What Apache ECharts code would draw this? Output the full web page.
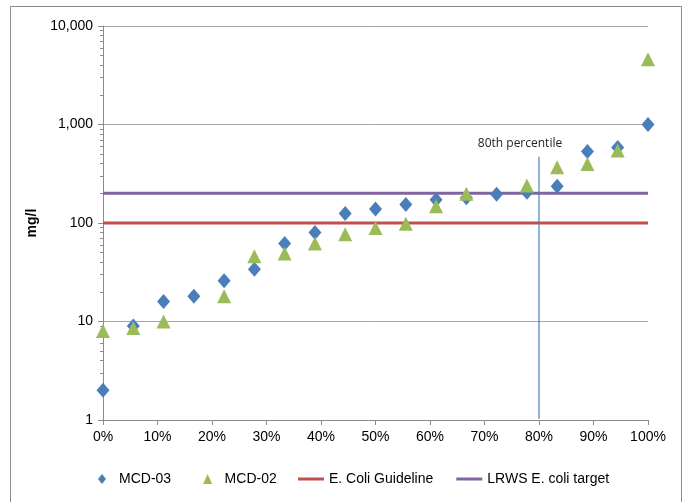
<!DOCTYPE html>
<html>
<head>
<meta charset="utf-8">
<script src="https://cdn.jsdelivr.net/npm/echarts@6/dist/echarts.min.js"></script>
<style>
  html, body { margin: 0; padding: 0; background: #fff; }
  #chart { width: 688px; height: 502px; }
</style>
</head>
<body>
<div id="chart"></div>
<script>
// percentile positions (0 .. 100%, 19 samples)
var percentiles = [0, 5.56, 11.11, 16.67, 22.22, 27.78, 33.33, 38.89, 44.44, 50,
                   55.56, 61.11, 66.67, 72.22, 77.78, 83.33, 88.89, 94.44, 100];
var mcd03 = [2, 9, 16, 18, 26, 34, 62, 80, 125, 139, 154, 172, 180, 196, 205, 236, 532, 585, 1000];
var mcd02 = [8, 8.6, 10, null, 18, 46, 49, 62, 77, 89, 98, 148, 198, null, 240, 369, 398, 545, 4600];
var guideline = 100;
var lrwsTarget = 200;
var percentileLine = 80;
var percentileLineTop = 470;

var font = '"Liberation Sans", Arial, sans-serif';

function pairs(xs, ys) {
  var out = [];
  for (var i = 0; i < xs.length; i++) {
    if (ys[i] != null) out.push([xs[i], ys[i]]);
  }
  return out;
}

var chart = echarts.init(document.getElementById('chart'));

var legendText = { fontFamily: font, fontSize: 14, color: '#000' };

var option = {
  animation: false,
  textStyle: { fontFamily: font },
  graphic: [{
    type: 'rect',
    shape: { x: 10.5, y: 6.5, width: 671, height: 510 },
    style: { fill: 'none', stroke: '#8c8c8c', lineWidth: 1 },
    silent: true
  }],
  grid: { left: 103, right: 40, top: 26, bottom: 82 },
  legend: [
    {
      left: 93,
      top: 467,
      itemGap: 32,
      itemWidth: 24,
      itemHeight: 10,
      textStyle: legendText,
      data: [
        { name: 'MCD-03', icon: 'path://M0,-1L0.8,0L0,1L-0.8,0Z' },
        { name: 'MCD-02', icon: 'path://M0,-1L0.9,1L-0.9,1Z' }
      ]
    },
    {
      left: 293,
      top: 467,
      itemGap: 23,
      itemWidth: 26,
      itemHeight: 10,
      textStyle: legendText,
      data: [
        { name: 'E. Coli Guideline', icon: 'path://M0,0L26,0L26,3L0,3Z' },
        { name: 'LRWS E. coli target', icon: 'path://M0,0L26,0L26,3L0,3Z' }
      ]
    }
  ],
  xAxis: {
    type: 'value',
    min: 0,
    max: 100,
    interval: 10,
    axisLine: { lineStyle: { color: '#8c8c8c' } },
    axisTick: { show: true, length: 5, lineStyle: { color: '#8c8c8c' } },
    splitLine: { show: false },
    axisLabel: {
      margin: 10,
      fontFamily: font,
      fontSize: 14,
      color: '#000',
      formatter: function (v) { return v + '%'; }
    }
  },
  yAxis: {
    type: 'log',
    logBase: 10,
    min: 1,
    max: 10000,
    name: 'mg/l',
    nameLocation: 'middle',
    nameGap: 59,
    nameTextStyle: { fontFamily: font, fontSize: 14, fontWeight: 'bold', color: '#000' },
    axisLine: { show: true, lineStyle: { color: '#8c8c8c' } },
    axisTick: { show: true, length: 5, lineStyle: { color: '#8c8c8c' } },
    minorTick: { show: true, splitNumber: 9, length: 3, lineStyle: { color: '#8c8c8c' } },
    splitLine: { show: true, lineStyle: { color: '#a6a6a6', width: 1 } },
    axisLabel: {
      margin: 10,
      fontFamily: font,
      fontSize: 14,
      color: '#000',
      formatter: function (v) { return Math.round(v).toLocaleString('en-US'); }
    }
  },
  series: [
    {
      name: 'E. Coli Guideline',
      type: 'line',
      data: [[0, guideline], [100, guideline]],
      symbol: 'none',
      itemStyle: { color: '#c0504d' },
      lineStyle: { color: '#c0504d', width: 3 },
      z: 2
    },
    {
      name: 'LRWS E. coli target',
      type: 'line',
      data: [[0, lrwsTarget], [100, lrwsTarget]],
      symbol: 'none',
      itemStyle: { color: '#8064a2' },
      lineStyle: { color: '#8064a2', width: 3 },
      z: 2
    },
    {
      name: '80th percentile',
      type: 'line',
      data: [
        [percentileLine, 1.03],
        {
          value: [percentileLine, percentileLineTop],
          label: {
            show: true,
            position: 'top',
            formatter: '80th percentile',
            fontFamily: '"Open Sans", sans-serif',
            fontSize: 12,
            color: '#222',
            offset: [-19, -2]
          }
        }
      ],
      symbol: 'circle',
      symbolSize: 0.01,
      showSymbol: true,
      itemStyle: { color: '#4a7ebb' },
      lineStyle: { color: '#4a7ebb', width: 1.2 },
      z: 2
    },
    {
      name: 'MCD-03',
      type: 'scatter',
      data: pairs(percentiles, mcd03),
      symbol: 'diamond',
      symbolSize: [13, 15],
      itemStyle: { color: '#4a7ebb', opacity: 1 },
      z: 3
    },
    {
      name: 'MCD-02',
      type: 'scatter',
      data: pairs(percentiles, mcd02),
      symbol: 'triangle',
      symbolSize: [14, 14],
      itemStyle: { color: '#9bbb59', opacity: 1 },
      z: 4
    }
  ]
};

chart.setOption(option);
</script>
</body>
</html>
